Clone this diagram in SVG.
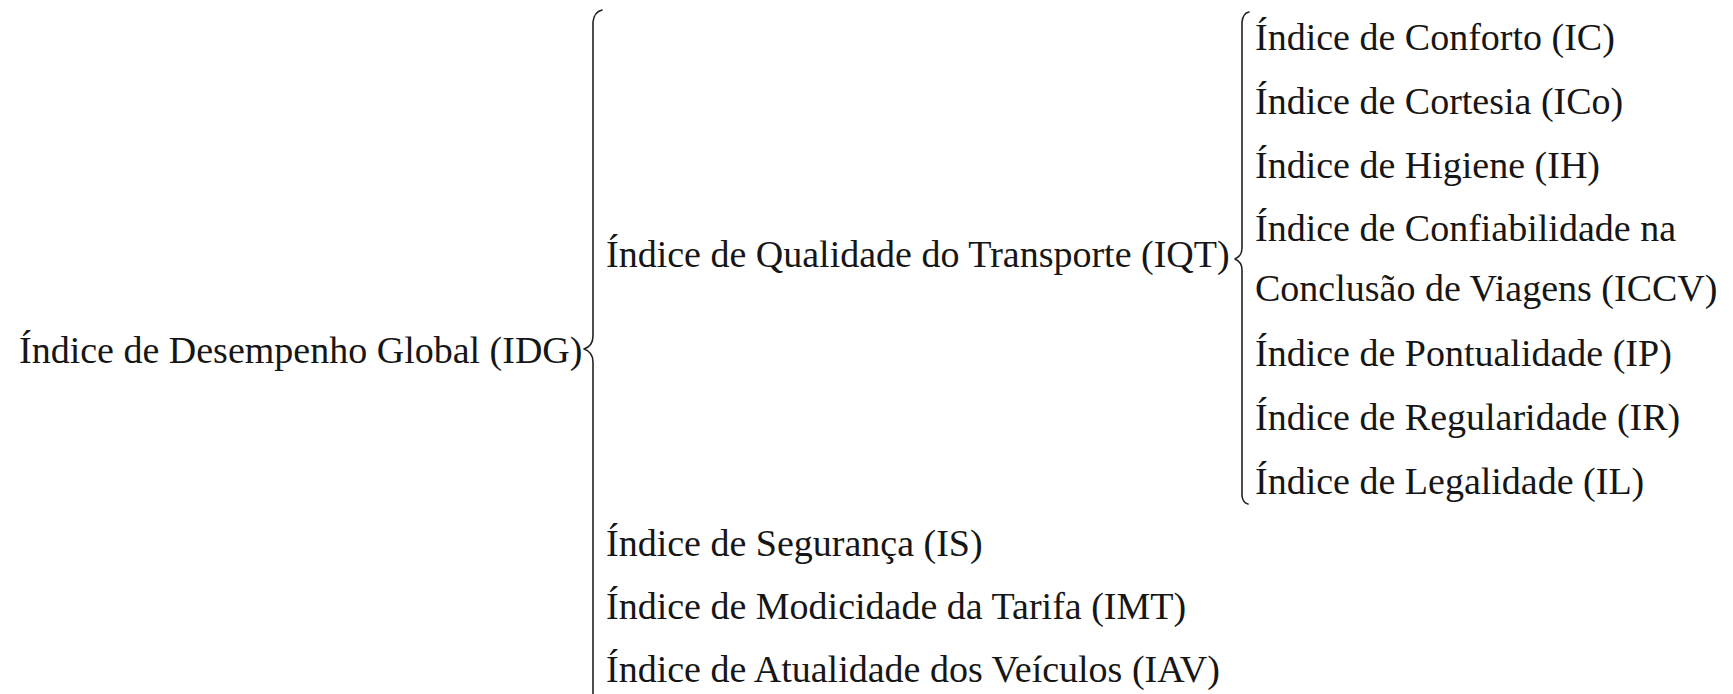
<svg xmlns="http://www.w3.org/2000/svg" width="1733" height="694" viewBox="0 0 1733 694">
<style>
text{font-family:"Liberation Serif","Times New Roman",serif;font-size:38px;fill:#161616}
.br{fill:none;stroke:#222;stroke-width:1.6;stroke-linecap:round;stroke-linejoin:round}
</style>
<rect width="1733" height="694" fill="#fff"/>
<g id="connectors">
<path class="br" d="M602,10 Q594,12 593,22 L593,336 Q593,346 584,349 Q593,352 593,362 L593,700"/>
<path class="br" d="M1249,12 Q1243,13 1242,22 L1242,248 Q1242,256 1235,259 Q1242,262 1242,270 L1242,496 Q1243,503 1248,504"/>
</g>
<g id="idg"><text x="19" y="363">Índice de Desempenho Global (IDG)</text></g>
<g id="iqt"><text x="606" y="267">Índice de Qualidade do Transporte (IQT)</text></g>
<g id="ic"><text x="1255" y="50">Índice de Conforto (IC)</text></g>
<g id="ico"><text x="1255" y="114">Índice de Cortesia (ICo)</text></g>
<g id="ih"><text x="1255" y="178">Índice de Higiene (IH)</text></g>
<g id="iccv"><text x="1255" y="241">Índice de Confiabilidade na</text><text x="1255" y="301">Conclusão de Viagens (ICCV)</text></g>
<g id="ip"><text x="1255" y="366">Índice de Pontualidade (IP)</text></g>
<g id="ir"><text x="1255" y="430">Índice de Regularidade (IR)</text></g>
<g id="il"><text x="1255" y="494">Índice de Legalidade (IL)</text></g>
<g id="is"><text x="606" y="556">Índice de Segurança (IS)</text></g>
<g id="imt"><text x="606" y="619">Índice de Modicidade da Tarifa (IMT)</text></g>
<g id="iav"><text x="606" y="682">Índice de Atualidade dos Veículos (IAV)</text></g>
</svg>
